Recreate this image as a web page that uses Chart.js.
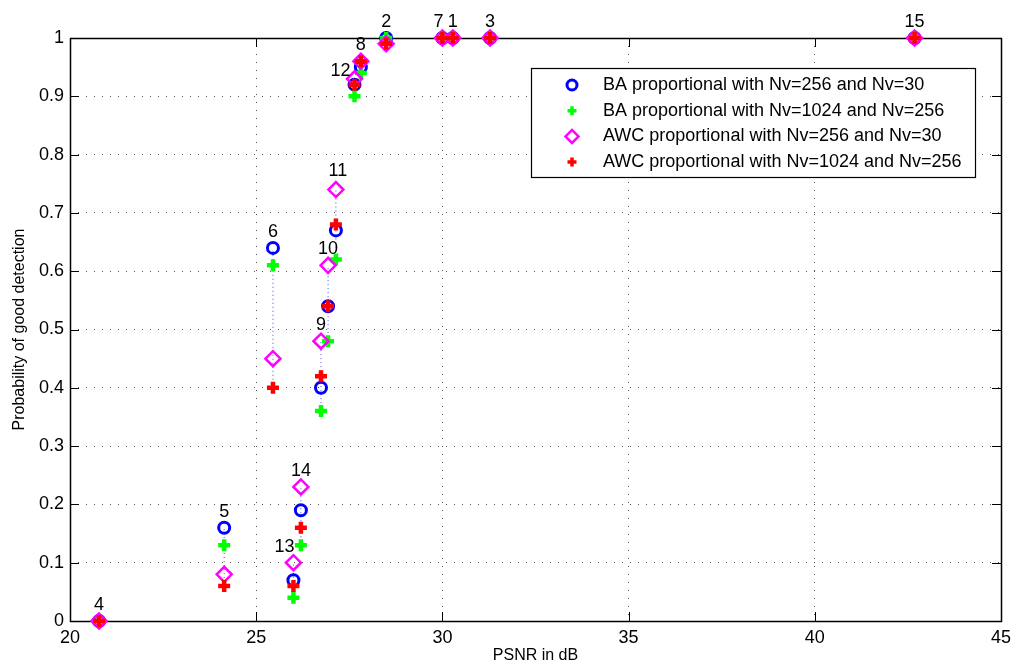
<!DOCTYPE html>
<html>
<head>
<meta charset="utf-8">
<script src="https://cdn.jsdelivr.net/npm/chart.js@4.4.1/dist/chart.umd.min.js"></script>
<style>
html,body{margin:0;padding:0;background:#fff;}
#wrap{width:1014px;height:666px;}
</style>
</head>
<body>
<div id="wrap"><canvas id="chart" width="1014" height="666"></canvas></div>
<script>
// image number and PSNR (dB) of each test image
const imageIds = [1, 2, 3, 4, 5, 6, 7, 8, 9, 10, 11, 12, 13, 14, 15];
const psnr = [30.28, 28.49, 31.28, 20.78, 24.14, 25.45, 30.0, 27.81, 26.74, 26.93, 27.14, 27.64, 26.0, 26.2, 42.68];

// probability of good detection per method
const baNv30 = [1, 1, 1, 0, 0.16, 0.64, 1, 0.95, 0.40, 0.54, 0.67, 0.92, 0.07, 0.19, 1];
const baNv256 = [1, 1, 1, 0, 0.13, 0.61, 1, 0.94, 0.36, 0.48, 0.62, 0.90, 0.04, 0.13, 1];
const awcNv30 = [1, 0.99, 1, 0, 0.08, 0.45, 1, 0.96, 0.48, 0.61, 0.74, 0.93, 0.10, 0.23, 1];
const awcNv256 = [1, 0.99, 1, 0, 0.06, 0.40, 1, 0.96, 0.42, 0.54, 0.68, 0.92, 0.06, 0.16, 1];

const seriesNames = [
  "BA proportional with Nv=256 and Nv=30",
  "BA proportional with Nv=1024 and Nv=256",
  "AWC proportional with Nv=256 and Nv=30",
  "AWC proportional with Nv=1024 and Nv=256"
];

const xTicks = [20, 25, 30, 35, 40, 45];
const yTicks = [0, 0.1, 0.2, 0.3, 0.4, 0.5, 0.6, 0.7, 0.8, 0.9, 1];

// nudges for the image numbers that would overlap (pixels)
const labelNudge = { 7: [-4, 0], 12: [-14, 8], 13: [-9, 0], 11: [2, -3] };

function pts(ys) {
  return ys.map((y, i) => ({ x: psnr[i], y: y }));
}

// dotted vertical line from min to max per image
const spanPts = [];
imageIds.forEach((id, i) => {
  const vals = [baNv30[i], baNv256[i], awcNv30[i], awcNv256[i]];
  spanPts.push({ x: psnr[i], y: Math.min(...vals) });
  spanPts.push({ x: psnr[i], y: Math.max(...vals) });
  spanPts.push({ x: psnr[i], y: null });
});

const FONT = "Liberation Sans, Arial, Helvetica, sans-serif";

function drawMarker(ctx, style, color, x, y, r, lw) {
  ctx.save();
  ctx.strokeStyle = color;
  ctx.lineWidth = lw;
  ctx.beginPath();
  if (style === "circle") {
    ctx.arc(x, y, r, 0, Math.PI * 2);
  } else if (style === "cross") {
    ctx.moveTo(x - r, y); ctx.lineTo(x + r, y);
    ctx.moveTo(x, y - r); ctx.lineTo(x, y + r);
  } else {
    ctx.moveTo(x, y - r); ctx.lineTo(x + r, y); ctx.lineTo(x, y + r); ctx.lineTo(x - r, y); ctx.closePath();
  }
  ctx.stroke();
  ctx.restore();
}

const framePlugin = {
  id: "frame",
  beforeDatasetsDraw(chart) {
    const ctx = chart.ctx;
    const a = chart.chartArea;
    const xs = chart.scales.x, ys = chart.scales.y;
    ctx.save();
    // box
    ctx.strokeStyle = "#000";
    ctx.lineWidth = 1.5;
    ctx.strokeRect(Math.round(a.left) + 0.5, Math.round(a.top) + 0.5, Math.round(a.right - a.left), Math.round(a.bottom - a.top));
    // inward ticks
    ctx.lineWidth = 1;
    ctx.beginPath();
    xTicks.forEach(v => {
      const px = Math.round(xs.getPixelForValue(v)) + 0.5;
      ctx.moveTo(px, a.bottom); ctx.lineTo(px, a.bottom - 9);
      ctx.moveTo(px, a.top); ctx.lineTo(px, a.top + 9);
    });
    yTicks.forEach(v => {
      const py = Math.round(ys.getPixelForValue(v)) + 0.5;
      ctx.moveTo(a.left, py); ctx.lineTo(a.left + 9, py);
      ctx.moveTo(a.right, py); ctx.lineTo(a.right - 9, py);
    });
    ctx.stroke();
    ctx.restore();
  },
  afterDatasetsDraw(chart) {
    const ctx = chart.ctx;
    const xs = chart.scales.x, ys = chart.scales.y;
    ctx.save();
    // image numbers
    ctx.fillStyle = "#000";
    ctx.font = "18px " + FONT;
    ctx.textAlign = "center";
    ctx.textBaseline = "middle";
    imageIds.forEach((id, i) => {
      const top = Math.max(baNv30[i], baNv256[i], awcNv30[i], awcNv256[i]);
      const n = labelNudge[id] || [0, 0];
      ctx.fillText(String(id), xs.getPixelForValue(psnr[i]) + n[0], ys.getPixelForValue(top) - 16 + n[1]);
    });

    // legend
    const lx = 531, ly = 68, lw = 444, lh = 109;
    ctx.fillStyle = "#fff";
    ctx.fillRect(lx, ly, lw, lh);
    ctx.lineWidth = 1.2;
    ctx.strokeStyle = "#000";
    ctx.strokeRect(lx + 0.5, ly + 0.5, lw, lh);
    const marks = [
      ["circle", "#0000ff", 5, 3],
      ["cross", "#00ff00", 4.5, 3.5],
      ["diamond", "#ff00ff", 6.5, 2.5],
      ["cross", "#ff0000", 4.5, 3.5]
    ];
    ctx.font = "18px " + FONT;
    ctx.fillStyle = "#000";
    ctx.textAlign = "left";
    seriesNames.forEach((name, k) => {
      const ry = 85 + k * 25.7;
      const m = marks[k];
      drawMarker(ctx, m[0], m[1], 572, ry, m[2], m[3]);
      ctx.fillText(name, 603, ry);
    });
    ctx.restore();
  }
};

new Chart(document.getElementById("chart"), {
  type: "scatter",
  data: {
    datasets: [
      {
        label: "span", type: "line", data: spanPts, showLine: true, spanGaps: false,
        borderColor: "rgba(0,0,255,0.7)", borderWidth: 1, borderDash: [1, 3], pointRadius: 0, order: 5, clip: false
      },
      {
        label: seriesNames[0], data: pts(baNv30), pointStyle: "circle", pointRadius: 5.5,
        borderColor: "#0000ff", backgroundColor: "rgba(0,0,0,0)", pointBorderWidth: 3, order: 4, clip: false
      },
      {
        label: seriesNames[1], data: pts(baNv256), pointStyle: "cross", pointRadius: 6,
        borderColor: "#00ff00", backgroundColor: "#00ff00", pointBorderWidth: 4.5, order: 3, clip: false
      },
      {
        label: seriesNames[2], data: pts(awcNv30), pointStyle: "rectRot", pointRadius: 7.5,
        borderColor: "#ff00ff", backgroundColor: "rgba(0,0,0,0)", pointBorderWidth: 2.5, order: 2, clip: false
      },
      {
        label: seriesNames[3], data: pts(awcNv256), pointStyle: "cross", pointRadius: 6,
        borderColor: "#ff0000", backgroundColor: "#ff0000", pointBorderWidth: 4.5, order: 1, clip: false
      }
    ]
  },
  options: {
    responsive: false,
    animation: false,
    events: [],
    layout: { padding: { top: 38, right: 13, left: 0, bottom: 0 } },
    plugins: { legend: { display: false }, tooltip: { enabled: false } },
    scales: {
      x: {
        type: "linear", min: 20, max: 45,
        afterBuildTicks: s => { s.ticks = xTicks.map(v => ({ value: v })); },
        ticks: { color: "#000", font: { size: 18, family: FONT }, padding: 6, maxRotation: 0 },
        grid: { color: "#555", drawTicks: false },
        border: { display: false, dash: [1, 7] },
        title: { display: true, text: "PSNR in dB", color: "#000", font: { size: 16, family: FONT }, padding: { top: 0, bottom: 1 } },
        afterFit: s => { s.height = 45; s.paddingRight = 0; }
      },
      y: {
        type: "linear", min: 0, max: 1,
        afterBuildTicks: s => { s.ticks = yTicks.map(v => ({ value: v })); },
        ticks: { color: "#000", font: { size: 18, family: FONT }, padding: 6, callback: v => String(v) },
        grid: { color: "#555", drawTicks: false },
        border: { display: false, dash: [1, 7] },
        title: { display: true, text: "Probability of good detection", color: "#000", font: { size: 16, family: FONT }, padding: { top: 10, bottom: 0 } },
        afterFit: s => { s.width = 70; }
      }
    }
  },
  plugins: [framePlugin]
});
</script>
</body>
</html>
